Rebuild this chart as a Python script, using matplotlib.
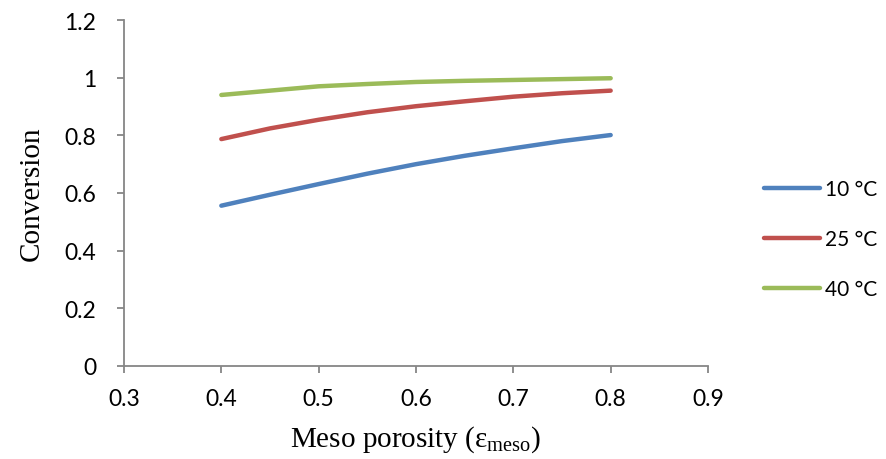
import numpy as np
import matplotlib.pyplot as plt

# Werte
porositaet = [0.40, 0.45, 0.50, 0.55, 0.60, 0.65, 0.70, 0.75, 0.80]
umsatz_10 = [0.556, 0.594, 0.631, 0.667, 0.700, 0.729, 0.755, 0.780, 0.801]
umsatz_25 = [0.787, 0.824, 0.854, 0.880, 0.901, 0.918, 0.934, 0.946, 0.955]
umsatz_40 = [0.940, 0.955, 0.970, 0.978, 0.985, 0.989, 0.992, 0.995, 0.998]
labels = ['10 °C', '25 °C', '40 °C']
farben = ['#4F81BD', '#C0504D', '#9BBB59']

x_ticks = [0.3, 0.4, 0.5, 0.6, 0.7, 0.8, 0.9]
y_ticks = [0, 0.2, 0.4, 0.6, 0.8, 1.0, 1.2]
y_ticklabels = ['0', '0.2', '0.4', '0.6', '0.8', '1', '1.2']

fig = plt.figure(figsize=(8.87, 4.6), dpi=100)
ax = fig.add_axes([124 / 887, 93 / 460, 584 / 887, 346 / 460])

for werte, lab, col in zip([umsatz_10, umsatz_25, umsatz_40], labels, farben):
    ax.plot(porositaet, werte, color=col, lw=3.2, label=lab,
            solid_capstyle='round', solid_joinstyle='round')

ax.set_xlim(0.3, 0.9)
ax.set_ylim(0, 1.2)
ax.set_xticks(x_ticks)
ax.set_xticklabels([str(t) for t in x_ticks], family='Lato', fontsize=16.5)
ax.set_yticks(y_ticks)
ax.set_yticklabels(y_ticklabels, family='Lato', fontsize=16.5)

grau = '#868686'
for s in ['top', 'right']:
    ax.spines[s].set_visible(False)
for s in ['left', 'bottom']:
    ax.spines[s].set_color(grau)
    ax.spines[s].set_linewidth(1.3)
ax.tick_params(direction='out', length=5, width=1.3, color=grau)
ax.tick_params(axis='y', pad=15)
ax.tick_params(axis='x', pad=11)

ax.set_ylabel('Conversion', family='Liberation Serif', fontsize=21, labelpad=14)
ax.set_xlabel('Meso porosity (ε$_{\\mathregular{meso}}$)',
              family='Liberation Serif', fontsize=21, labelpad=10)

leg = ax.legend(loc='center left', bbox_to_anchor=(0.84, 0.478),
                bbox_transform=fig.transFigure, frameon=False,
                prop={'family': 'Lato', 'size': 15}, handlelength=2.7,
                handletextpad=0.25, labelspacing=1.45)

fig.savefig('out.png', dpi=100)
